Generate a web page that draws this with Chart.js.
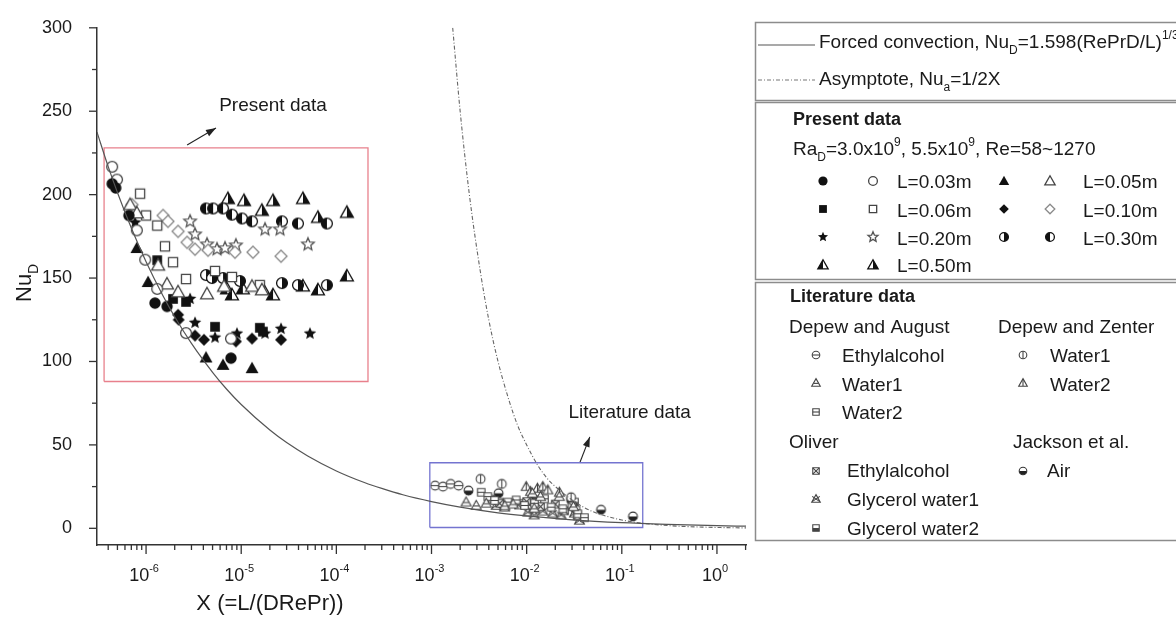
<!DOCTYPE html>
<html>
<head>
<meta charset="utf-8">
<script src="https://cdn.jsdelivr.net/npm/chart.js@4.4.1/dist/chart.umd.min.js"></script>
<style>
    html, body { margin: 0; padding: 0; background: #fff; }
    #wrap { position: relative; width: 1176px; height: 618px; }
</style>
</head>
<body>
<div id="wrap"><canvas id="grafico" width="1176" height="618"></canvas></div>
<script>
// ---- axes ----
const xMin = 3.05e-7, xMax = 2.02;
const yMin = -10, yMax = 300;
const xTickExponents = [-6, -5, -4, -3, -2, -1, 0];
const yTickValues = [0, 25, 50, 75, 100, 125, 150, 175, 200, 225, 250, 275, 300];

// ---- curves ----
const forcedX = [3.05e-7, 4e-7, 5e-7, 7e-7, 1e-6, 1.5e-6, 2e-6, 3e-6, 5e-6, 7e-6, 1e-5, 2e-5, 3e-5, 5e-5, 1e-4, 2e-4, 3e-4, 5e-4, 1e-3, 2e-3, 5e-3, 1e-2, 3e-2, 0.1, 0.3, 1, 2.02];
const forcedNu = [237.5, 216.8, 201.3, 180, 159.8, 139.6, 126.8, 110.8, 93.5, 83.5, 74.2, 58.9, 51.4, 43.4, 34.4, 27.3, 23.9, 20.1, 16.0, 12.7, 9.3, 7.4, 5.1, 3.4, 2.4, 1.6, 1.26];
const asymX = [1.67e-3, 2e-3, 2.5e-3, 3.3e-3, 4e-3, 5e-3, 6.5e-3, 8e-3, 1e-2, 1.3e-2, 1.7e-2, 2.2e-2, 3e-2, 4e-2, 5.5e-2, 7.5e-2, 0.1, 0.15, 0.22, 0.33, 0.5, 0.75, 1.1, 1.6, 2.02];
const asymNu = [300, 250, 200, 152, 125, 100, 77, 62, 50, 38, 29, 23, 17, 12.5, 9, 6.7, 5, 3.3, 2.3, 1.5, 1, 0.7, 0.45, 0.3, 0.25];

// ---- present data [X, Nu] ----
const l003Filled = [[4.4e-7, 206.5], [4.8e-7, 204], [6.6e-7, 187.5], [1.24e-6, 135], [1.66e-6, 133], [7.8e-6, 102]];
const l003Open = [[4.4e-7, 216.7], [4.95e-7, 209], [8.0e-7, 178.6], [9.8e-7, 161], [1.31e-6, 143.5], [2.63e-6, 117], [7.8e-6, 113.7]];
const l005Filled = [[8.0e-7, 168], [1.05e-6, 147.6], [4.27e-6, 102.4], [6.44e-6, 98], [1.3e-5, 96]];
const l005Open = [[6.8e-7, 194], [8.0e-7, 189], [1.34e-6, 157.7], [1.66e-6, 146.4], [2.17e-6, 141.7], [4.37e-6, 140.5], [6.6e-6, 145], [1.3e-5, 145], [1.65e-5, 142.9]];
const l006Filled = [[1.31e-6, 160.7], [1.92e-6, 137.5], [2.63e-6, 135.7], [5.31e-6, 120.8], [1.57e-5, 120.2], [1.69e-5, 117.9]];
const l006Open = [[8.65e-7, 200.6], [1.0e-6, 187.5], [1.31e-6, 181.5], [1.58e-6, 169], [1.92e-6, 159.5], [2.63e-6, 149.4], [5.31e-6, 154.2], [8.0e-6, 150.6], [1.57e-5, 145.8]];
const l010Filled = [[2.17e-6, 128], [2.2e-6, 125], [3.27e-6, 115.5], [4.06e-6, 113], [8.8e-6, 112], [1.3e-5, 113.7], [2.62e-5, 113]];
const l010Open = [[7.13e-7, 194], [1.51e-6, 187.5], [1.7e-6, 184], [2.17e-6, 178], [2.7e-6, 171.4], [3.27e-6, 167.3], [4.48e-6, 166.7], [8.6e-6, 165.5], [1.33e-5, 165.5], [2.62e-5, 163.1]];
const l020Filled = [[7.66e-7, 183.3], [2.9e-6, 137.5], [3.27e-6, 123.2], [5.31e-6, 114.3], [9.03e-6, 116.7], [1.78e-5, 116.7], [2.62e-5, 119.6], [5.28e-5, 116.7]];
const l020Open = [[2.9e-6, 184], [3.27e-6, 176.2], [4.37e-6, 170.2], [5.57e-6, 167.3], [6.76e-6, 167.9], [8.8e-6, 169.6], [1.78e-5, 179.2], [2.56e-5, 179.2], [5.03e-5, 170.2]];
const l030A = [[4.27e-6, 151.8], [4.93e-6, 150], [6.44e-6, 150], [9.7e-6, 148.2], [2.68e-5, 147], [3.95e-5, 145.8], [7.96e-5, 145.8]];
const l030B = [[4.27e-6, 191.7], [5.06e-6, 191.7], [6.44e-6, 191.7], [8.0e-6, 188], [1.02e-5, 185.7], [1.3e-5, 184], [2.68e-5, 184], [3.95e-5, 182.7], [7.96e-5, 182.7]];
const l050A = [[7.1e-6, 143.5], [8.0e-6, 139.9], [1.04e-5, 143.5], [1.69e-5, 143.5], [2.16e-5, 139.9], [4.46e-5, 145.2], [6.41e-5, 142.9], [1.29e-4, 151.2]];
const l050B = [[7.26e-6, 197.6], [1.07e-5, 196.4], [1.65e-5, 190.5], [2.16e-5, 196.4], [4.46e-5, 197.6], [6.41e-5, 186.3], [1.29e-4, 189.3]];

// ---- literature data [X, Nu] ----
const daEthyl = [[1.09e-3, 25.6], [1.32e-3, 25], [1.59e-3, 26.6], [1.93e-3, 25.6]];
const daWater1 = [[2.31e-3, 15.7], [2.95e-3, 13.7], [3.76e-3, 15], [5.9e-3, 13.5], [7.2e-3, 14.5], [1.15e-2, 21], [1.2e-2, 12], [1.4e-2, 19], [2.2e-2, 19], [3.1e-2, 13]];
const daWater2 = [[3.33e-3, 21.6], [3.91e-3, 19], [4.6e-3, 16.7], [6.35e-3, 15.7], [7.76e-3, 17], [9.5e-3, 13.7], [1.21e-2, 15], [1.54e-2, 17.7], [1.81e-2, 12.7], [2.4e-2, 11.7], [3.45e-2, 8.7], [4.05e-2, 6.4]];
const dzWater1 = [[3.28e-3, 29.6], [5.48e-3, 26.6], [2.93e-2, 18.6]];
const dzWater2 = [[9.9e-3, 25], [1.1e-2, 22], [1.3e-2, 24], [1.48e-2, 25], [1.67e-2, 23], [2.21e-2, 21.6]];
const olEthyl = [[4.2e-3, 17.5], [5.2e-3, 15], [8.2e-3, 14], [1.0e-2, 16], [1.4e-2, 13], [2.0e-2, 14.5], [2.5e-2, 10.5], [3.0e-2, 13.5], [3.4e-2, 7.5]];
const olGly1 = [[4.79e-3, 13.7], [5.86e-3, 12.7], [1.03e-2, 9.7], [1.2e-2, 8], [1.48e-2, 10.3], [1.88e-2, 9.1], [2.3e-2, 8], [3.18e-2, 9.1], [3.59e-2, 4.8]];
const olGly2 = [[5.19e-3, 15.7], [8.75e-3, 15], [1.1e-2, 12], [1.31e-2, 19.6], [3.18e-2, 15.7], [3.3e-2, 11]];
const jacksonAir = [[2.45e-3, 22.6], [5.07e-3, 21], [1.2e-2, 20], [2.93e-2, 17], [6.05e-2, 11.1], [0.131, 7.1]];

// ---- annotations ----
const presentBox = [[3.62e-7, 88], [2.15e-4, 228]];
const literatureBox = [[9.6e-4, 0.5], [0.166, 39.3]];
const presentArrow = [[2.7e-6, 229.8], [5.43e-6, 239.9]];
const literatureArrow = [[3.62e-2, 39.3], [4.61e-2, 54.8]];
const presentLabel = [2.16e-5, 253];
const literatureLabel = [0.121, 69];

const FONT = '"Liberation Sans", Arial, sans-serif';
const INK = '#111', OPEN = '#444', LIGHT = '#8a8a8a', LIT = '#444';

function pathCirc(ctx, x, y, r) { ctx.beginPath(); ctx.arc(x, y, r, 0, Math.PI * 2); }
function pathTri(ctx, x, y, r) {
    ctx.beginPath();
    ctx.moveTo(x, y - r);
    ctx.lineTo(x + r * 0.98, y + r * 0.75);
    ctx.lineTo(x - r * 0.98, y + r * 0.75);
    ctx.closePath();
}
function pathSq(ctx, x, y, h) { ctx.beginPath(); ctx.rect(x - h, y - h, 2 * h, 2 * h); }
function pathDia(ctx, x, y, r) {
    ctx.beginPath();
    ctx.moveTo(x, y - r); ctx.lineTo(x + r, y); ctx.lineTo(x, y + r); ctx.lineTo(x - r, y);
    ctx.closePath();
}
function pathStar(ctx, x, y, r) {
    ctx.beginPath();
    for (let i = 0; i < 10; i++) {
        const a = -Math.PI / 2 + i * Math.PI / 5;
        const rr = i % 2 ? r * 0.45 : r;
        ctx.lineTo(x + rr * Math.cos(a), y + rr * Math.sin(a));
    }
    ctx.closePath();
}

function drawMarker(ctx, kind, x, y, r) {
    ctx.save();
    ctx.lineWidth = r > 4.5 ? 1.3 : 1.1;
    const fs = (fill, stroke) => {
        if (fill) { ctx.fillStyle = fill; ctx.fill(); }
        if (stroke) { ctx.strokeStyle = stroke; ctx.stroke(); }
    };
    const line = (x0, y0, x1, y1) => { ctx.beginPath(); ctx.moveTo(x0, y0); ctx.lineTo(x1, y1); ctx.stroke(); };
    switch (kind) {
        case 'circF': pathCirc(ctx, x, y, r); fs(INK); break;
        case 'circO': pathCirc(ctx, x, y, r * 0.95); fs('#fff', OPEN); break;
        case 'triF': pathTri(ctx, x, y, r * 1.15); fs(INK); break;
        case 'triO': pathTri(ctx, x, y, r * 1.15); fs('#fff', OPEN); break;
        case 'sqF': pathSq(ctx, x, y, r * 0.85); fs(INK); break;
        case 'sqO': pathSq(ctx, x, y, r * 0.8); fs('#fff', OPEN); break;
        case 'diaF': pathDia(ctx, x, y, r * 1.05); fs(INK); break;
        case 'diaO': pathDia(ctx, x, y, r * 1.05); fs('#fff', LIGHT); break;
        case 'starF': pathStar(ctx, x, y, r * 1.15); fs(INK); break;
        case 'starO': pathStar(ctx, x, y, r * 1.15); fs('#fff', '#555'); break;
        case 'halfCircL':
        case 'halfCircR':
            pathCirc(ctx, x, y, r * 0.95); fs('#fff');
            ctx.beginPath();
            if (kind === 'halfCircR') ctx.arc(x, y, r * 0.95, -Math.PI / 2, Math.PI / 2);
            else ctx.arc(x, y, r * 0.95, Math.PI / 2, Math.PI * 1.5);
            ctx.closePath(); fs(INK);
            pathCirc(ctx, x, y, r * 0.95); fs(null, INK);
            break;
        case 'halfTriL':
        case 'halfTriR':
            pathTri(ctx, x, y, r * 1.15); fs('#fff');
            ctx.save(); pathTri(ctx, x, y, r * 1.15); ctx.clip();
            ctx.fillStyle = INK;
            if (kind === 'halfTriL') ctx.fillRect(x - 2 * r, y - 2 * r, 2 * r, 4 * r);
            else ctx.fillRect(x, y - 2 * r, 2 * r, 4 * r);
            ctx.restore();
            pathTri(ctx, x, y, r * 1.15); fs(null, INK);
            break;
        case 'litCircH': pathCirc(ctx, x, y, r); fs('#fff', LIT); ctx.strokeStyle = LIT; line(x - r, y, x + r, y); break;
        case 'litCircV': pathCirc(ctx, x, y, r); fs('#fff', LIT); ctx.strokeStyle = LIT; line(x, y - r, x, y + r); break;
        case 'litTriH': pathTri(ctx, x, y, r * 1.15); fs('#fff', LIT); ctx.strokeStyle = LIT; line(x - r * 0.6, y + r * 0.1, x + r * 0.6, y + r * 0.1); break;
        case 'litTriV': pathTri(ctx, x, y, r * 1.15); fs('#fff', LIT); ctx.strokeStyle = LIT; line(x, y - r, x, y + r * 0.8); break;
        case 'litSqH': pathSq(ctx, x, y, r * 0.85); fs('#fff', LIT); ctx.strokeStyle = LIT; line(x - r * 0.85, y, x + r * 0.85, y); break;
        case 'litSqX':
            pathSq(ctx, x, y, r * 0.85); fs('#fff', LIT); ctx.strokeStyle = LIT;
            line(x - r * 0.85, y - r * 0.85, x + r * 0.85, y + r * 0.85);
            line(x + r * 0.85, y - r * 0.85, x - r * 0.85, y + r * 0.85);
            break;
        case 'litStarX':
            pathTri(ctx, x, y, r * 1.15); fs('#fff', LIT); ctx.strokeStyle = LIT;
            line(x - r, y - r * 0.7, x + r, y + r * 0.7);
            line(x + r, y - r * 0.7, x - r, y + r * 0.7);
            break;
        case 'litSqHalf':
            pathSq(ctx, x, y, r * 0.85); fs('#fff');
            ctx.fillStyle = LIT; ctx.fillRect(x - r * 0.85, y, r * 1.7, r * 0.85);
            pathSq(ctx, x, y, r * 0.85); fs(null, LIT);
            break;
        case 'litCircHalf':
            pathCirc(ctx, x, y, r); fs('#fff');
            ctx.beginPath(); ctx.arc(x, y, r, 0, Math.PI); ctx.closePath(); fs('#222');
            pathCirc(ctx, x, y, r); fs(null, '#333');
            break;
    }
    ctx.restore();
}

function makeMarker(kind, r) {
    const s = Math.ceil(2 * r + 6);
    const c = document.createElement('canvas');
    c.width = s; c.height = s;
    drawMarker(c.getContext('2d'), kind, s / 2, s / 2, r);
    return c;
}

const toPts = arr => arr.map(p => ({ x: p[0], y: p[1] }));
const boxPts = b => toPts([[b[0][0], b[0][1]], [b[1][0], b[0][1]], [b[1][0], b[1][1]], [b[0][0], b[1][1]], [b[0][0], b[0][1]]]);

const scatterSeries = [
    [l003Filled, 'circF', 5.7], [l003Open, 'circO', 5.7],
    [l005Filled, 'triF', 5.7], [l005Open, 'triO', 5.7],
    [l006Filled, 'sqF', 5.7], [l006Open, 'sqO', 5.7],
    [l010Filled, 'diaF', 5.7], [l010Open, 'diaO', 5.7],
    [l020Filled, 'starF', 5.7], [l020Open, 'starO', 5.7],
    [l030A, 'halfCircR', 5.7], [l030B, 'halfCircL', 5.7],
    [l050A, 'halfTriL', 5.7], [l050B, 'halfTriR', 5.7],
    [daEthyl, 'litCircH', 4.4], [daWater1, 'litTriH', 4.4], [daWater2, 'litSqH', 4.4],
    [dzWater1, 'litCircV', 4.4], [dzWater2, 'litTriV', 4.4],
    [olEthyl, 'litSqX', 4.4], [olGly1, 'litStarX', 4.4], [olGly2, 'litSqHalf', 4.4],
    [jacksonAir, 'litCircHalf', 4.4]
];

const lineSet = (data, color, width, dash, smooth) => ({
    data, showLine: true, pointRadius: 0, borderColor: color, borderWidth: width,
    borderDash: dash || [], cubicInterpolationMode: smooth ? 'monotone' : 'default', tension: 0
});

const datasets = [
    lineSet(toPts(forcedX.map((v, i) => [v, forcedNu[i]])), '#555', 1.2, null, true),
    lineSet(toPts(asymX.map((v, i) => [v, asymNu[i]])), '#666', 1.1, [4, 2, 1, 2], true),
    lineSet(boxPts(presentBox), '#e8808c', 1.3),
    lineSet(boxPts(literatureBox), '#7474d0', 1.3),
    lineSet(toPts(presentArrow), '#222', 1.1),
    lineSet(toPts(literatureArrow), '#222', 1.1)
];
scatterSeries.forEach(([arr, kind, r]) => {
    datasets.push({ data: toPts(arr), pointStyle: makeMarker(kind, r), pointRadius: r, showLine: false });
});

function richText(ctx, x, y, parts, base, bold) {
    let cx = x;
    parts.forEach(p => {
        const t = typeof p === 'string' ? p : p[0];
        const mode = typeof p === 'string' ? '' : p[1];
        const size = mode ? Math.round(base * 0.62) : base;
        ctx.font = (bold ? 'bold ' : '') + size + 'px ' + FONT;
        const dy = mode === 'sub' ? base * 0.3 : mode === 'sup' ? -base * 0.5 : 0;
        ctx.fillText(t, cx, y + dy);
        cx += ctx.measureText(t).width;
    });
    return cx - x;
}
function richWidth(ctx, parts, base) {
    let w = 0;
    parts.forEach(p => {
        const t = typeof p === 'string' ? p : p[0];
        const mode = typeof p === 'string' ? '' : p[1];
        ctx.font = (mode ? Math.round(base * 0.62) : base) + 'px ' + FONT;
        w += ctx.measureText(t).width;
    });
    return w;
}

const extras = {
    id: 'extras',
    afterDraw(chart) {
        const { ctx, chartArea, scales: { x, y } } = chart;
        ctx.save();
        // tick marks
        ctx.strokeStyle = '#333';
        ctx.lineWidth = 1.3;
        x.ticks.forEach(t => {
            const lg = Math.log10(t.value);
            const major = Math.abs(lg - Math.round(lg)) < 1e-6;
            const px = x.getPixelForValue(t.value);
            ctx.beginPath(); ctx.moveTo(px, chartArea.bottom); ctx.lineTo(px, chartArea.bottom + (major ? 9 : 5)); ctx.stroke();
        });
        y.ticks.forEach(t => {
            const major = t.value % 50 === 0;
            const py = y.getPixelForValue(t.value);
            ctx.beginPath(); ctx.moveTo(chartArea.left, py); ctx.lineTo(chartArea.left - (major ? 8 : 5), py); ctx.stroke();
        });

        // decade tick labels 10^n
        ctx.fillStyle = '#1a1a1a';
        ctx.textAlign = 'left';
        ctx.textBaseline = 'alphabetic';
        xTickExponents.forEach(e => {
            const parts = ['10', [String(e), 'sup']];
            const w = richWidth(ctx, parts, 18);
            richText(ctx, x.getPixelForValue(Math.pow(10, e)) - w / 2 - 2, 581, parts, 18);
        });

        // arrow heads
        ctx.fillStyle = '#222';
        [presentArrow, literatureArrow].forEach(a => {
            const x0 = x.getPixelForValue(a[0][0]), y0 = y.getPixelForValue(a[0][1]);
            const x1 = x.getPixelForValue(a[1][0]), y1 = y.getPixelForValue(a[1][1]);
            const ang = Math.atan2(y1 - y0, x1 - x0);
            ctx.beginPath();
            ctx.moveTo(x1, y1);
            ctx.lineTo(x1 - 10 * Math.cos(ang) + 3.5 * Math.sin(ang), y1 - 10 * Math.sin(ang) - 3.5 * Math.cos(ang));
            ctx.lineTo(x1 - 10 * Math.cos(ang) - 3.5 * Math.sin(ang), y1 - 10 * Math.sin(ang) + 3.5 * Math.cos(ang));
            ctx.closePath();
            ctx.fill();
        });

        // annotation texts
        ctx.fillStyle = '#1a1a1a';
        ctx.font = '19px ' + FONT;
        ctx.textAlign = 'center';
        ctx.textBaseline = 'middle';
        ctx.fillText('Present data', x.getPixelForValue(presentLabel[0]), y.getPixelForValue(presentLabel[1]));
        ctx.fillText('Literature data', x.getPixelForValue(literatureLabel[0]), y.getPixelForValue(literatureLabel[1]));

        // axis titles
        ctx.textAlign = 'left';
        ctx.textBaseline = 'alphabetic';
        ctx.font = '22px ' + FONT;
        const xt = 'X (=L/(DRePr))';
        ctx.fillText(xt, 270 - ctx.measureText(xt).width / 2, 610);
        ctx.save();
        ctx.translate(31, 302);
        ctx.rotate(-Math.PI / 2);
        richText(ctx, 0, 0, ['Nu', ['D', 'sub']], 22);
        ctx.restore();

        // legend
        ctx.strokeStyle = '#8c8c8c';
        ctx.lineWidth = 1.5;
        ctx.strokeRect(755.5, 22.5, 450, 78);
        ctx.strokeRect(755.5, 102.5, 450, 177);
        ctx.strokeRect(755.5, 282.5, 450, 258);

        ctx.lineWidth = 1.2;
        ctx.strokeStyle = '#555';
        ctx.beginPath(); ctx.moveTo(758, 45); ctx.lineTo(815, 45); ctx.stroke();
        ctx.strokeStyle = '#777';
        ctx.setLineDash([4, 2, 1, 2]);
        ctx.beginPath(); ctx.moveTo(758, 80); ctx.lineTo(815, 80); ctx.stroke();
        ctx.setLineDash([]);

        ctx.fillStyle = '#1a1a1a';
        richText(ctx, 819, 48, ['Forced convection, Nu', ['D', 'sub'], '=1.598(RePrD/L)', ['1/3', 'sup']], 19);
        richText(ctx, 819, 85, ['Asymptote, Nu', ['a', 'sub'], '=1/2X'], 19);

        richText(ctx, 793, 125, ['Present data'], 18, true);
        richText(ctx, 793, 155, ['Ra', ['D', 'sub'], '=3.0x10', ['9', 'sup'], ', 5.5x10', ['9', 'sup'], ', Re=58~1270'], 19);
        const presentRows = [
            [181, 188, 'circF', 'circO', 'L=0.03m', 'triF', 'triO', 'L=0.05m'],
            [209, 217, 'sqF', 'sqO', 'L=0.06m', 'diaF', 'diaO', 'L=0.10m'],
            [237, 245, 'starF', 'starO', 'L=0.20m', 'halfCircR', 'halfCircL', 'L=0.30m'],
            [265, 272, 'halfTriL', 'halfTriR', 'L=0.50m']
        ];
        presentRows.forEach(r => {
            drawMarker(ctx, r[2], 823, r[0], 4.6);
            drawMarker(ctx, r[3], 873, r[0], 4.6);
            ctx.fillStyle = '#1a1a1a';
            richText(ctx, 897, r[1], [r[4]], 19);
            if (r[5]) {
                drawMarker(ctx, r[5], 1004, r[0], 4.6);
                drawMarker(ctx, r[6], 1050, r[0], 4.6);
                ctx.fillStyle = '#1a1a1a';
                richText(ctx, 1083, r[1], [r[7]], 19);
            }
        });

        ctx.fillStyle = '#1a1a1a';
        richText(ctx, 790, 302, ['Literature data'], 18, true);
        richText(ctx, 789, 333, ['Depew and August'], 19);
        richText(ctx, 998, 333, ['Depew and Zenter'], 19);
        richText(ctx, 789, 448, ['Oliver'], 19);
        richText(ctx, 1013, 448, ['Jackson et al.'], 19);
        const litRows = [
            [816, 842, 355, 362, 'litCircH', 'Ethylalcohol'],
            [816, 842, 383, 391, 'litTriH', 'Water1'],
            [816, 842, 412, 419, 'litSqH', 'Water2'],
            [1023, 1050, 355, 362, 'litCircV', 'Water1'],
            [1023, 1050, 383, 391, 'litTriV', 'Water2'],
            [816, 847, 471, 477, 'litSqX', 'Ethylalcohol'],
            [816, 847, 499, 506, 'litStarX', 'Glycerol water1'],
            [816, 847, 528, 535, 'litSqHalf', 'Glycerol water2'],
            [1023, 1047, 471, 477, 'litCircHalf', 'Air']
        ];
        litRows.forEach(r => {
            drawMarker(ctx, r[4], r[0], r[2], 3.8);
            ctx.fillStyle = '#1a1a1a';
            richText(ctx, r[1], r[3], [r[5]], 19);
        });
        ctx.restore();
    }
};

new Chart(document.getElementById('grafico'), {
    type: 'scatter',
    data: { datasets },
    options: {
        responsive: false,
        animation: false,
        layout: { padding: { left: 0, top: 24, right: 430, bottom: 0 } },
        plugins: { legend: { display: false }, tooltip: { enabled: false } },
        scales: {
            x: {
                type: 'logarithmic',
                min: xMin,
                max: xMax,
                grid: { display: false },
                border: { display: true, color: '#333', width: 1.5 },
                afterBuildTicks: scale => {
                    const ticks = [];
                    for (let e = -7; e <= 0; e++) {
                        for (let m = 1; m <= 9; m++) {
                            const v = m * Math.pow(10, e);
                            if (v >= xMin && v <= xMax) ticks.push({ value: v });
                        }
                    }
                    scale.ticks = ticks;
                },
                afterFit: scale => { scale.height = 73; },
                ticks: { autoSkip: false, maxRotation: 0, callback: () => '' }
            },
            y: {
                min: yMin,
                max: yMax,
                grid: { display: false },
                border: { display: true, color: '#333', width: 1.5 },
                afterBuildTicks: scale => { scale.ticks = yTickValues.map(v => ({ value: v })); },
                afterFit: scale => { scale.width = 97; },
                ticks: {
                    autoSkip: false,
                    padding: 17,
                    color: '#1a1a1a',
                    font: { family: FONT, size: 18 },
                    callback: v => (v % 50 === 0 ? String(v) : '')
                }
            }
        }
    },
    plugins: [extras]
});
</script>
</body>
</html>
